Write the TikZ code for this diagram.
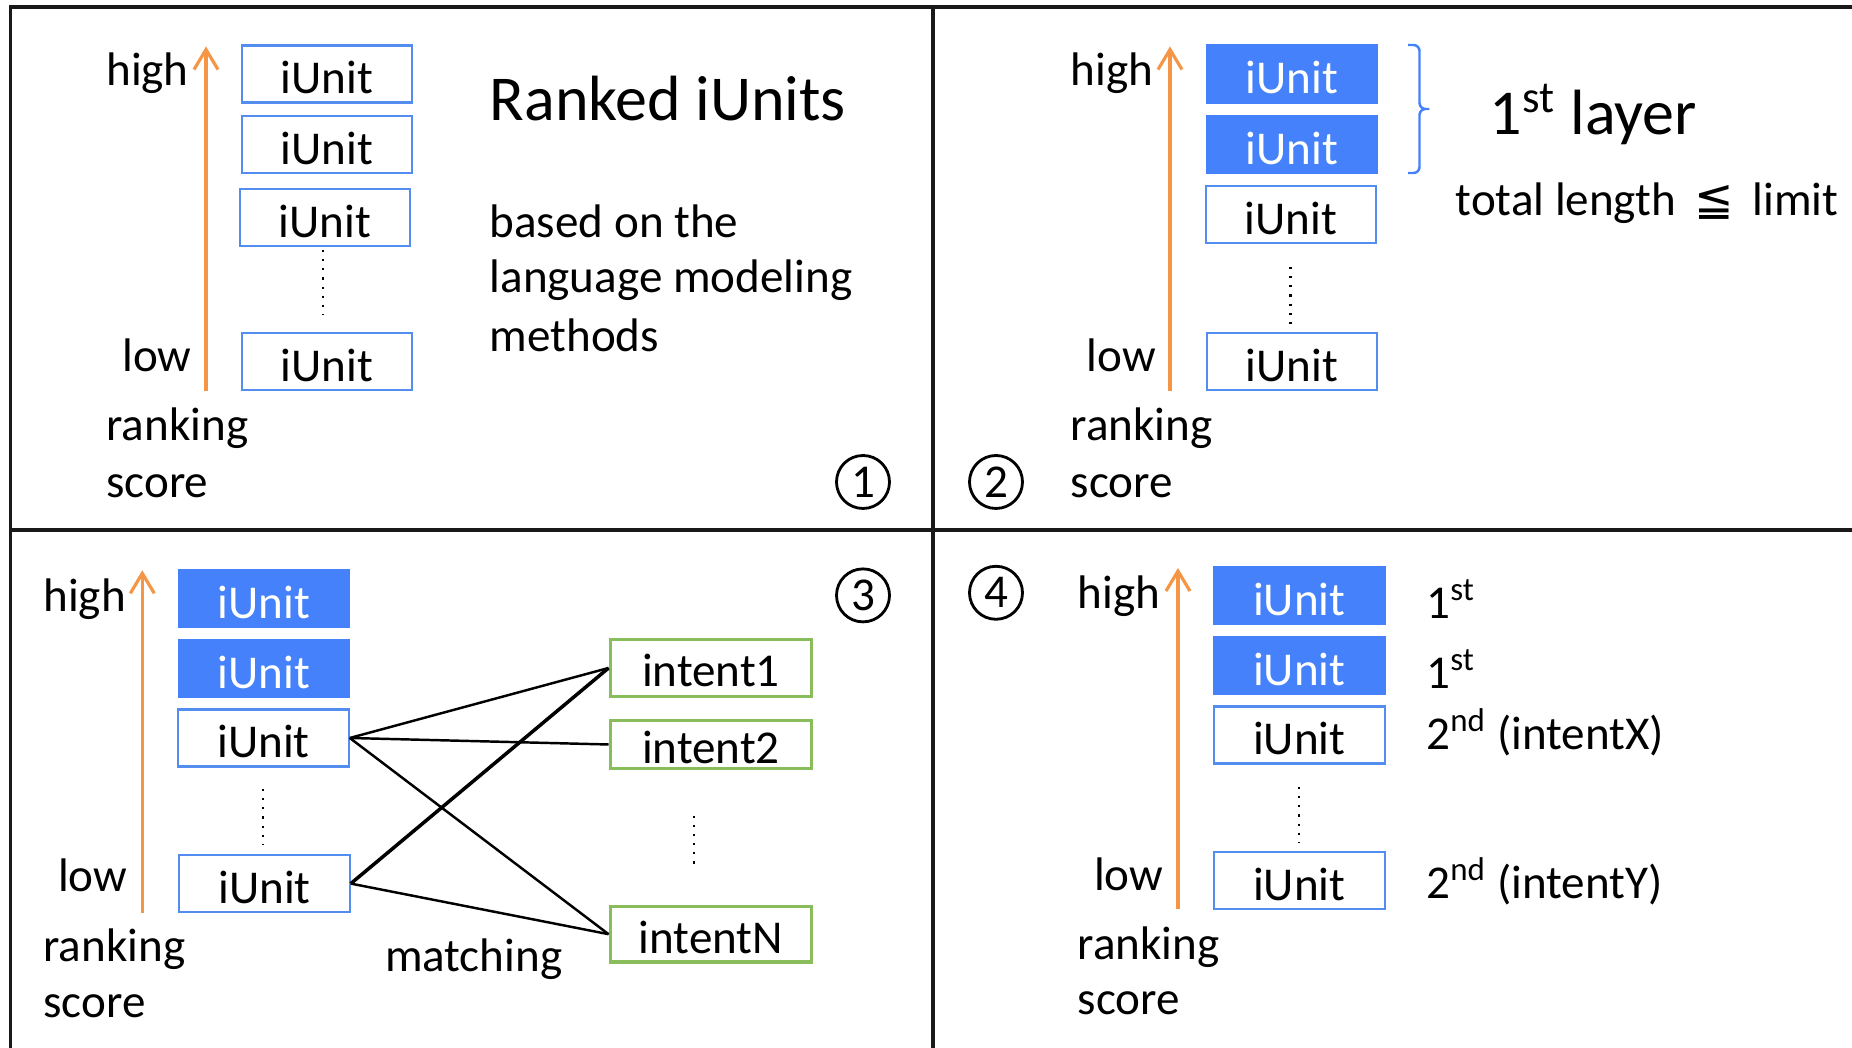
\documentclass[tikz,border=0pt]{standalone}
\usepackage{fontspec}
\setmainfont{Carlito}
\newfontfamily\symfont{DejaVu Sans}
\usetikzlibrary{arrows.meta}
\definecolor{unitline}{RGB}{84,141,240}
\definecolor{unitfill}{RGB}{68,129,250}
\definecolor{intentline}{RGB}{137,188,90}
\definecolor{scoreline}{RGB}{245,150,70}
\newcommand{\labelsize}{\fontsize{13.4}{16}\selectfont}
\newcommand{\titlesize}{\fontsize{18.2}{22}\selectfont}

\begin{document}
\begin{tikzpicture}[
    unit/.style={draw=unitline, line width=0.6pt, minimum width=1.705cm, minimum height=0.57cm, inner sep=0pt, text height=0.42cm, text depth=0.02cm, font=\labelsize},
    picked/.style={unit, fill=unitfill, draw=unitfill, text=white},
    intent/.style={draw=intentline, line width=1.1pt, minimum width=2.01cm, minimum height=0.57cm, inner sep=0pt, text height=0.40cm, text depth=0.02cm, font=\labelsize},
    lbl/.style={anchor=base west, inner sep=0pt, yshift=-0.2mm, font=\labelsize},
    num/.style={circle, draw, line width=0.8pt, minimum size=0.53cm, inner sep=0pt, font=\labelsize},
    axis/.style={draw=scoreline, line width=0.9pt, -{Straight Barb[length=2mm,width=2.4mm]}},
    more/.style={line width=0.6pt, dash pattern=on 0.6pt off 2pt},
    frame/.style={line width=0.9pt, draw=black!90}
  ]
    \useasboundingbox (0,0) rectangle (18.52,10.48);
    \draw[frame] (0.107,0) -- (0.107,10.41) -- (18.52,10.41);
    \draw[frame] (9.33,0) -- (9.33,10.41);
    \draw[frame] (0.107,5.18) -- (18.52,5.18);

    \node[unit] (a1) at (3.27,9.74) {iUnit};
    \node[unit] (a2) at (3.27,9.035) {iUnit};
    \node[unit] (a3) at (3.25,8.305) {iUnit};
    \node[unit] (a4) at (3.27,6.865) {iUnit};
    \draw[more] (3.23,7.98) -- (3.23,7.33);
    \coordinate (basea) at (2.06,6.57);
    \coordinate (tipa) at (2.06,10.015);
    \draw[axis] (basea) -- (tipa);
    \node[lbl] (higha) at (1.056,9.64) {high};
    \node[lbl] (lowa) at (1.216,6.78) {low};
    \node[lbl] (ranka) at (1.056,6.09) {ranking};
    \node[lbl] (scorea) at (1.056,5.52) {score};
    \node[lbl, font=\titlesize] (title) at (4.89,9.292) {Ranked iUnits};
    \node[lbl] (based) at (4.89,8.12) {based on the};
    \node[lbl] (lang) at (4.89,7.57) {language modeling};
    \node[lbl] (meth) at (4.89,6.985) {methods};
    \node[num] (n1) at (8.63,5.66) {1};

    \node[picked] (b1) at (12.92,9.74) {iUnit};
    \node[picked] (b2) at (12.92,9.035) {iUnit};
    \node[unit] (b3) at (12.91,8.335) {iUnit};
    \node[unit] (b4) at (12.92,6.865) {iUnit};
    \draw[more] (12.905,7.81) -- (12.905,7.24);
    \coordinate (baseb) at (11.70,6.57);
    \coordinate (tipb) at (11.70,10.015);
    \draw[axis] (baseb) -- (tipb);
    \node[lbl] (highb) at (10.70,9.64) {high};
    \node[lbl] (lowb) at (10.86,6.78) {low};
    \node[lbl] (rankb) at (10.70,6.09) {ranking};
    \node[lbl] (scoreb) at (10.70,5.52) {score};
    \draw[unitfill, line width=0.7pt, rounded corners=0.6mm]
      (14.08,10.03) -- (14.195,10.03) -- (14.195,9.39) -- (14.33,9.39)
      -- (14.195,9.39) -- (14.195,8.75) -- (14.08,8.75);
    \node[lbl, font=\titlesize] (layer) at (14.89,9.154) {1\textsuperscript{st} layer};
    \node[lbl] (limit) at (14.55,8.345) {total length\hspace{0.08cm} {\symfont ≦}\hspace{0.08cm} limit};
    \node[num] (n2) at (9.96,5.66) {2};

    \node[picked] (c1) at (2.64,4.491) {iUnit};
    \node[picked] (c2) at (2.64,3.796) {iUnit};
    \node[unit] (c3) at (2.635,3.10) {iUnit};
    \node[unit] (c4) at (2.645,1.644) {iUnit};
    \draw[more] (2.633,2.59) -- (2.633,2.025);
    \coordinate (basec) at (1.423,1.354);
    \coordinate (tipc) at (1.423,4.777);
    \draw[axis] (basec) -- (tipc);
    \node[lbl] (highc) at (0.427,4.387) {high};
    \node[lbl] (lowc) at (0.575,1.58) {low};
    \node[lbl] (rankc) at (0.427,0.885) {ranking};
    \node[lbl] (scorec) at (0.427,0.324) {score};
    \node[intent] (i1) at (7.11,3.80) {intent1};
    \node[intent, minimum height=0.48cm] (i2) at (7.11,3.035) {intent2};
    \node[intent, minimum height=0.555cm] (in) at (7.11,1.138) {intentN};
    \draw[more] (6.94,2.322) -- (6.94,1.777);
    \draw[line width=0.7pt] (c3.east) -- (i1.west);
    \draw[line width=0.7pt] (c3.east) -- (i2.west);
    \draw[line width=0.7pt] (c3.east) -- (in.west);
    \draw[line width=1pt] (c4.east) -- (i1.west);
    \draw[line width=0.7pt] (c4.east) -- (in.west);
    \node[lbl] (match) at (3.843,0.786) {matching};
    \node[num] (n3) at (8.63,4.526) {3};

    \node[picked] (d1) at (12.993,4.523) {iUnit};
    \node[picked] (d2) at (12.993,3.825) {iUnit};
    \node[unit] (d3) at (12.993,3.13) {iUnit};
    \node[unit] (d4) at (12.993,1.674) {iUnit};
    \draw[more] (12.987,2.61) -- (12.987,2.06);
    \coordinate (based) at (11.78,1.387);
    \coordinate (tipd) at (11.78,4.80);
    \draw[axis] (based) -- (tipd);
    \node[lbl] (highd) at (10.77,4.414) {high};
    \node[lbl] (lowd) at (10.935,1.596) {low};
    \node[lbl] (rankd) at (10.77,0.902) {ranking};
    \node[lbl] (scored) at (10.77,0.35) {score};
    \node[lbl] (r1) at (14.257,4.314) {1\textsuperscript{st}};
    \node[lbl] (r2) at (14.257,3.61) {1\textsuperscript{st}};
    \node[lbl] (r3) at (14.257,3.00) {2\textsuperscript{nd} (intentX)};
    \node[lbl] (r4) at (14.257,1.513) {2\textsuperscript{nd} (intentY)};
    \node[num] (n4) at (9.96,4.552) {4};
  \end{tikzpicture}
\end{document}
